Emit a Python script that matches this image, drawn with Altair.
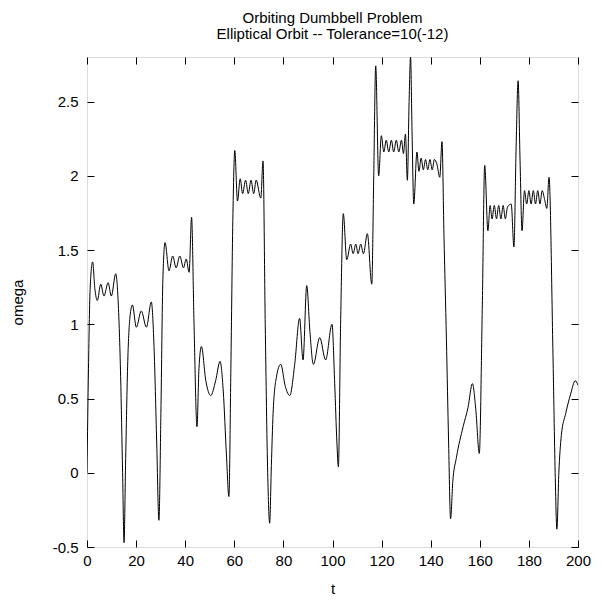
import altair as alt
import pandas as pd

t_vals = [
    0.0, 0.6, 1.3, 2.3, 3.2, 4.2, 5.6, 6.9, 8.6, 9.9, 11.7, 12.7, 13.7, 14.5, 15.1, 15.7, 16.6, 17.5,
    18.5, 20.1, 22.1, 24.2, 26.2, 27.3, 28.4, 29.3, 30.1, 30.9, 31.8, 33.4, 34.9, 36.3, 37.8, 39.3,
    40.4, 41.6, 42.6, 43.6, 44.8, 45.6, 46.6, 48.4, 50.4, 52.4, 54.2, 55.5, 56.8, 57.8, 58.6, 59.4,
    60.2, 61.3, 62.4, 63.4, 64.6, 65.7, 66.8, 67.9, 68.9, 70.8, 71.7, 72.6, 73.6, 74.4, 75.1, 75.8,
    77.1, 78.9, 80.8, 82.6, 84.6, 86.6, 88.0, 89.5, 90.8, 92.2, 94.8, 97.2, 99.8, 100.9, 101.8, 102.4,
    103.3, 104.4, 105.8, 107.4, 108.4, 109.5, 110.4, 111.5, 112.6, 114.2, 116.0, 116.8, 117.6, 118.8,
    119.9, 120.9, 121.9, 122.9, 124.0, 124.9, 126.0, 127.0, 128.1, 128.9, 129.7, 130.5, 131.2, 131.8,
    132.4, 133.1, 134.4, 135.2, 136.1, 137.0, 137.9, 138.8, 139.7, 140.6, 141.5, 142.5, 143.7, 144.6,
    145.4, 146.4, 147.3, 148.1, 149.0, 150.5, 153.2, 155.2, 157.0, 158.4, 159.8, 161.0, 162.0, 163.3,
    164.2, 165.0, 165.9, 166.8, 167.7, 168.6, 169.5, 170.4, 171.3, 172.8, 173.9, 174.8, 175.6, 176.4,
    177.2, 178.2, 179.1, 180.0, 180.9, 181.8, 182.7, 183.6, 184.5, 185.4, 186.4, 187.3, 188.2, 189.8,
    190.7, 191.4, 192.2, 193.2, 195.0, 197.0, 198.9, 200.0,
]
omega_vals = [
    0.00, 0.70, 1.25, 1.42, 1.24, 1.16, 1.27, 1.19, 1.28, 1.19, 1.34, 1.15, 0.65, 0.00, -0.47, 0.05, 0.75, 1.05,
    1.13, 0.98, 1.09, 0.98, 1.15, 0.85, 0.20, -0.32, 0.40, 1.30, 1.55, 1.36, 1.46, 1.38, 1.46, 1.38,
    1.44, 1.35, 1.72, 1.00, 0.31, 0.70, 0.85, 0.62, 0.52, 0.62, 0.75, 0.55, 0.12, -0.16, 0.70, 1.70,
    2.17, 1.83, 1.98, 1.88, 1.97, 1.88, 1.97, 1.88, 1.97, 1.85, 2.10, 1.00, 0.00, -0.34, 0.05, 0.40,
    0.64, 0.73, 0.58, 0.52, 0.73, 1.04, 0.76, 1.26, 0.95, 0.73, 0.91, 0.76, 1.00, 0.60, 0.20, 0.04,
    1.00, 1.745, 1.435, 1.54, 1.475, 1.54, 1.475, 1.54, 1.475, 1.61, 1.27, 2.00, 2.74, 2.00,
    2.27, 2.16, 2.24, 2.16, 2.24, 2.16, 2.24, 2.16, 2.24, 2.15, 2.28, 1.97, 2.50, 2.80,
    2.30, 1.81, 2.16, 2.03, 2.12, 2.04, 2.11, 2.04, 2.11, 2.04, 2.11, 2.08, 1.99, 2.23,
    1.60, 0.90, 0.20, -0.31, -0.06, 0.105, 0.31, 0.44, 0.60, 0.42, 0.13, 1.10, 2.07, 1.63,
    1.80, 1.71, 1.80, 1.71, 1.80, 1.71, 1.80, 1.71, 1.79, 1.81, 1.52, 2.20, 2.64, 2.10,
    1.63, 1.90, 1.81, 1.90, 1.81, 1.90, 1.81, 1.90, 1.81, 1.90, 1.84, 1.78, 1.99, 0.80,
    0.00, -0.38, 0.00, 0.25, 0.40, 0.53, 0.62, 0.59,
]

x_ticks = [0, 20, 40, 60, 80, 100, 120, 140, 160, 180, 200]
y_ticks = [-0.5, 0, 0.5, 1, 1.5, 2, 2.5]
title_lines = ["Orbiting Dumbbell Problem", "Elliptical Orbit -- Tolerance=10(-12)"]

df = pd.DataFrame({"t": t_vals, "omega": omega_vals})

FONT = "Liberation Sans"
common_axis = dict(domain=False, tickColor="black", tickWidth=1, tickSize=7, offset=-7,
                   labelFont=FONT, labelFontSize=15, labelColor="black", labelFlush=False,
                   labelOverlap=False, labelExpr="datum.value + ''",
                   titleFont=FONT, titleFontSize=15, titleFontWeight="normal", titleColor="black",
                   grid=False)

xscale = alt.Scale(domain=[0, 200], nice=False, zero=False)
yscale = alt.Scale(domain=[-0.5, 2.8], nice=False, zero=False)

main = alt.Chart(df).mark_line(color="black", strokeWidth=1, interpolate="monotone", clip=True).encode(
    x=alt.X("t:Q", scale=xscale,
            axis=alt.Axis(orient="bottom", values=x_ticks, labelPadding=6,
                          title="t", titlePadding=13, **common_axis)),
    y=alt.Y("omega:Q", scale=yscale,
            axis=alt.Axis(orient="left", values=y_ticks, labelPadding=9,
                          title="omega", titlePadding=27, **common_axis)),
)

mirror_axis = dict(domain=False, tickColor="black", tickWidth=1, tickSize=7, offset=-7,
                   labels=False, title=None, grid=False)

mirror = alt.Chart(df).mark_line(opacity=0, clip=True).encode(
    x=alt.X("t:Q", scale=xscale, axis=alt.Axis(orient="top", values=x_ticks, **mirror_axis)),
    y=alt.Y("omega:Q", scale=yscale, axis=alt.Axis(orient="right", values=y_ticks, **mirror_axis)),
)

chart = alt.layer(main, mirror).resolve_axis(x="independent", y="independent").properties(
    width=491,
    height=490,
    autosize=alt.AutoSizeParams(type="none"),
    padding={"left": 79, "top": 49, "right": 16, "bottom": 70},
    title=alt.TitleParams(text=title_lines, font=FONT, fontSize=15, fontWeight="normal",
                          color="black", anchor="middle", frame="group", offset=15, lineHeight=16),
).configure_view(stroke="black", strokeWidth=1.2).configure(background="white")

chart.save("out.html", embed_options={"renderer": "svg", "actions": False})
